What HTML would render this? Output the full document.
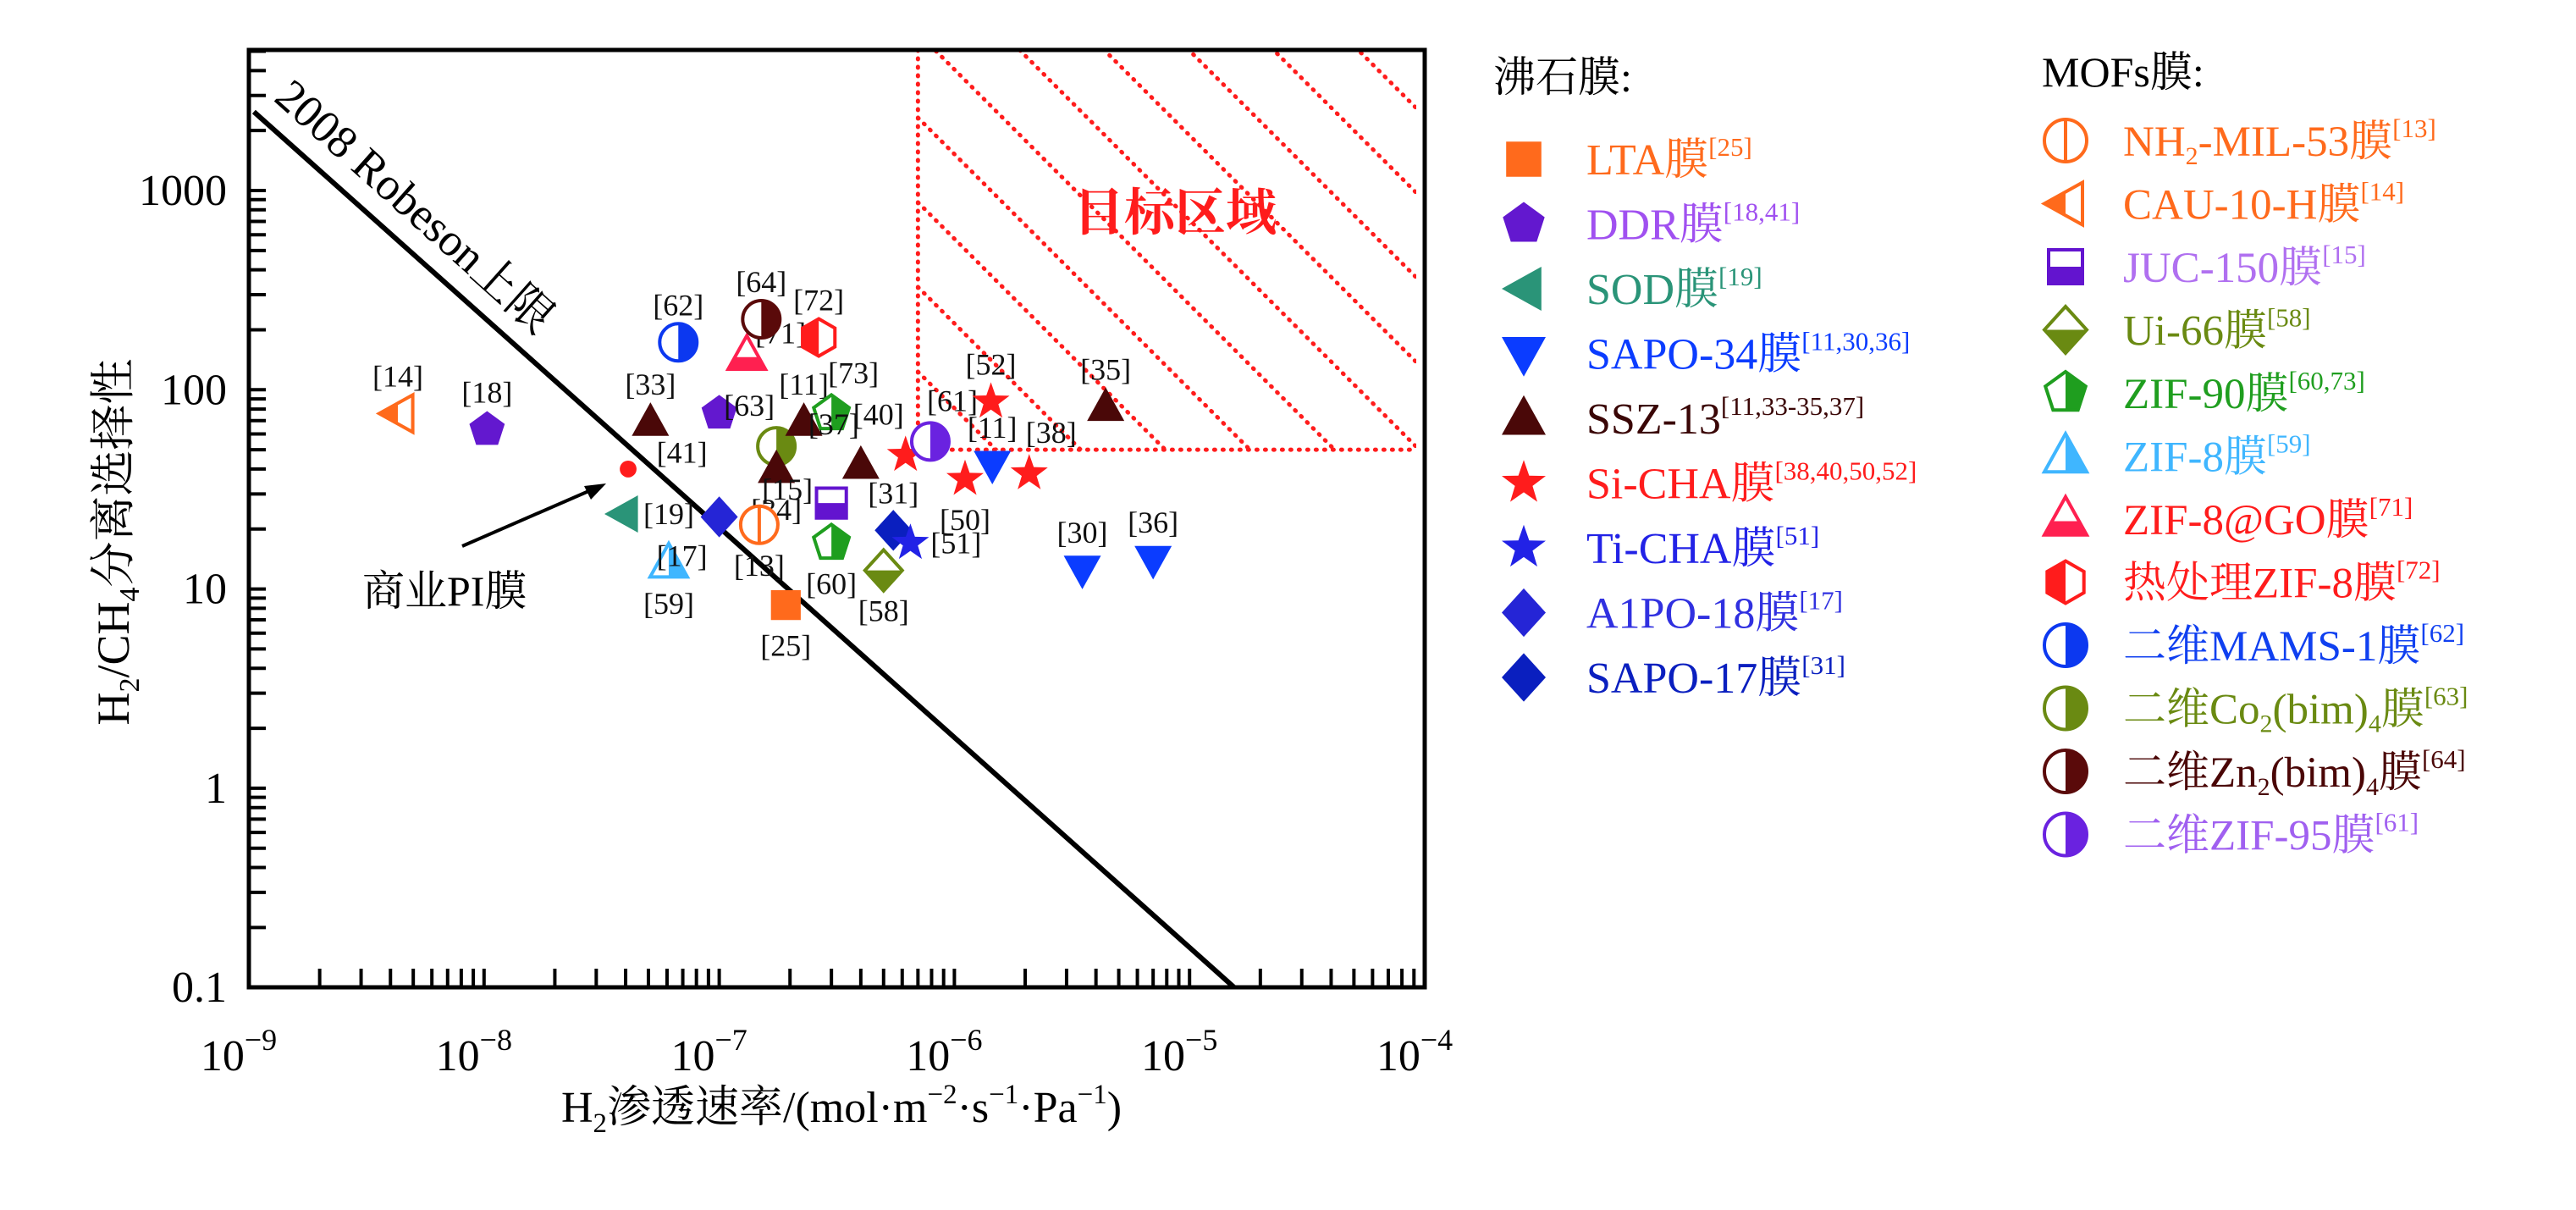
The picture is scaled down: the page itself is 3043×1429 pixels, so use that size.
<!DOCTYPE html>
<html><head><meta charset="utf-8"><style>
html,body{margin:0;padding:0;background:#fff;overflow:hidden;width:3043px;height:1429px;}
svg{display:block;}
text{font-family:"Liberation Serif","Noto Serif CJK SC","Noto Sans CJK SC",serif;}
</style></head><body>
<svg id="chart" width="3043" height="1429" viewBox="0 0 3043 1429" xmlns="http://www.w3.org/2000/svg">
<defs><clipPath id="targetClip"><rect id="targetClipRect" x="0" y="0" width="0" height="0"/></clipPath></defs>
<g id="plot"></g>
<g id="legend"></g>
</svg>
<script>
// ---- data ----
const seriesNames = ["LTA","DDR","SOD","SAPO-34","SSZ-13","Si-CHA","Ti-CHA","AlPO-18","SAPO-17",
 "NH2-MIL-53","CAU-10-H","JUC-150","Ui-66","ZIF-90","ZIF-8","ZIF-8@GO","heat-ZIF-8","MAMS-1","Co2bim4","Zn2bim4","ZIF-95","PI"];
const seriesShapes = ["square","pentagon","triLeft","triDown","triUp","star","star","diamond","diamond",
 "circle","triLeft","square","diamond","pentagon","triUp","triUp","hexagon","circle","circle","circle","circle","dot"];
const seriesFills = ["full","full","full","full","full","full","full","full","full",
 "vline","left","bottom","bottom","right","right","bottom","left","right","right","right","right","full"];
const seriesColors = ["#ff6a1c","#6318cf","#2a9478","#0b3cff","#4a0808","#ff1c1c","#2222e6","#2525d6","#0a1fbf",
 "#ff6a1c","#ff6a1c","#6314cf","#6a8a12","#1f9e1f","#3fb6ff","#ff2050","#ff1c1c","#0c38f0","#6a8a12","#5a0a0a","#6a22e0","#ff1c1c"];
const pointSeries = [10,1,4,21,2,14,17,15,19,16,1,18,4,4,13,4,11,7,9,13,12,0,8,6,5,20,5,5,3,5,4,3,3];
const pointX = [4.3e-9,1.03e-8,5.1e-8,4.1e-8,3.9e-8,6.1e-8,6.7e-8,1.31e-7,1.51e-7,2.65e-7,1.0e-7,1.75e-7,1.75e-7,2.29e-7,3.0e-7,4.0e-7,3.0e-7,1.0e-7,1.48e-7,3.0e-7,5.0e-7,1.92e-7,5.5e-7,6.5e-7,6.2e-7,7.9e-7,1.11e-6,1.43e-6,1.45e-6,2.08e-6,4.4e-6,3.5e-6,7.0e-6];
const pointY = [76,63,69,40,23.8,13.5,173,149,226,183,76,52,40,69,76,42,27,23,21,17,12.4,8.3,19.7,17,47,55,35.6,87,42,38,82,12.5,14];
const pointLabels = ["[14]","[18]","[33]","","[19]","[59]","[62]","[71]","[64]","[72]","[41]","[63]","[34]","[11]","[73]","[37]","[15]","[17]","[13]","[60]","[58]","[25]","[31]","[51]","[40]","[61]","[50]","[52]","[11]","[38]","[35]","[30]","[36]"];
const labelPos = ["a","a","a","","r","b","a","r2","a","a","bl","al","b","a","ar","al","l","bl","b","b","b","b","a","r","al","ar","b","a","a","ar","a","a","a"];
const xTickExps = [-9,-8,-7,-6,-5,-4];
const yTickVals = [0.1,1,10,100,1000];
const yTickLabels = ["0.1","1","10","100","1000"];
const robesonX = [1.05e-9,1.55e-5];
const robesonY = [2485,0.1];
const targetMinX = 7e-7, targetMinY = 50;

// ---- axes ----
const X0=294, X1=1683, Y0=59, Y1=1166;
const xDec=(X1-X0)/5;
const yDec=235.3, yRef=225;
function sx(v){return X0+xDec*(Math.log10(v)+9);}
function sy(v){return yRef+yDec*(3-Math.log10(v));}
const yMaxVal=Math.pow(10,3+(yRef-Y0)/yDec);

const NS="http://www.w3.org/2000/svg";
function el(tag,attrs,parent){const e=document.createElementNS(NS,tag);for(const k in attrs)e.setAttribute(k,attrs[k]);parent.appendChild(e);return e;}
const plot=document.getElementById('plot');
const legend=document.getElementById('legend');

// target region
const tx=sx(targetMinX), ty=sy(targetMinY);
const cr=document.getElementById('targetClipRect');
cr.setAttribute('x',tx);cr.setAttribute('y',Y0);cr.setAttribute('width',X1-tx-10);cr.setAttribute('height',ty-Y0);
const tg=el('g',{},plot);


const hg=el('g',{'clip-path':'url(#targetClip)'},tg);
for(let k=-10;k<8;k++){
  const yS=Y0+80+k*100;
  const ln=el('line',{x1:tx,y1:yS,x2:tx+800,y2:yS+800,stroke:'#ff1c1c','stroke-width':5,'stroke-dasharray':'1 9','stroke-linecap':'round'},hg);
  
  
}
el('line',{x1:tx,y1:Y0,x2:tx,y2:ty,stroke:'#ff1c1c','stroke-width':5,'stroke-dasharray':'1 9','stroke-linecap':'round'},tg);
el('line',{x1:tx,y1:ty,x2:X1-10,y2:ty,stroke:'#ff1c1c','stroke-width':5,'stroke-dasharray':'1 9','stroke-linecap':'round'},tg);
const tt=el('text',{x:1388,y:272,'font-size':60,'font-weight':'bold',fill:'#ff1c1c','text-anchor':'middle','font-family':'"Noto Sans CJK SC","WenQuanYi Zen Hei",sans-serif'},tg);
tt.textContent='目标区域';



// axes frame
const frame=el('rect',{x:X0,y:Y0,width:X1-X0,height:Y1-Y0,fill:'none',stroke:'#000','stroke-width':5},plot);



// x ticks
const xa=el('g',{},plot);


for(const e of xTickExps){
  for(let m=1;m<10;m++){
    const v=m*Math.pow(10,e); if(e===-4&&m>1)break;
    const x=sx(v);
    if(m>1||(e>-9&&e<-4)) el('line',{x1:x,y1:Y1,x2:x,y2:Y1-22,stroke:'#000','stroke-width':4},xa);
  }
  const t=el('text',{x:sx(Math.pow(10,e))-12,y:1264,'font-size':52,'text-anchor':'middle'},xa);
  
  
  t.innerHTML='10<tspan font-size="36" dy="-24">−'+(-e)+'</tspan>';
}
// y ticks
const ya=el('g',{},plot);


for(let d=0;d<yTickVals.length;d++){
  for(let m=1;m<10;m++){
    const v=m*yTickVals[d]; if(v>yMaxVal)break;
    if(m===1&&d===0)continue;
    el('line',{x1:X0,y1:sy(v),x2:X0+20,y2:sy(v),stroke:'#000','stroke-width':4},ya);
  }
  const t=el('text',{x:268,y:sy(yTickVals[d])+17,'font-size':52,'text-anchor':'end'},ya);
  
  
  t.textContent=yTickLabels[d];
}
// axis titles
const xt=el('text',{x:994,y:1325,'font-size':52,'text-anchor':'middle'},plot);


xt.innerHTML='H<tspan font-size="33" dy="12">2</tspan><tspan dy="-12">渗透速率/(mol·m</tspan><tspan font-size="33" dy="-22">−2</tspan><tspan dy="22">·s</tspan><tspan font-size="33" dy="-22">−1</tspan><tspan dy="22">·Pa</tspan><tspan font-size="33" dy="-22">−1</tspan><tspan dy="22">)</tspan>';
const yt=el('text',{x:0,y:0,'font-size':54,'text-anchor':'middle',transform:'translate(152,640) rotate(-90)'},plot);


yt.innerHTML='H<tspan font-size="34" dy="12">2</tspan><tspan dy="-12">/CH</tspan><tspan font-size="34" dy="12">4</tspan><tspan dy="-12">分离选择性</tspan>';

// Robeson line
const rl=el('line',{x1:sx(robesonX[0]),y1:sy(robesonY[0]),x2:sx(robesonX[1]),y2:sy(robesonY[1]),stroke:'#000','stroke-width':6},plot);


const ang=Math.atan2(sy(robesonY[1])-sy(robesonY[0]),sx(robesonX[1])-sx(robesonX[0]))*180/Math.PI;
const rt=el('text',{x:0,y:0,'font-size':54,transform:'translate(322,118) rotate('+ang+')'},plot);
rt.textContent='2008 Robeson上限';



// PI annotation
const pa=el('g',{},plot);


el('line',{x1:546,y1:645,x2:700,y2:578,stroke:'#000','stroke-width':4},pa);
el('path',{d:'M716,571 L690,574 L698,590 Z',fill:'#000'},pa);
const pt=el('text',{x:428,y:715,'font-size':50},pa);
pt.textContent='商业PI膜';

// ---- markers ----
let clipId=0;
function shapePath(type,r){
  const pts=(n,rad,off,inner)=>{let s='';for(let i=0;i<n;i++){const a=(off+360/n*i)*Math.PI/180;s+=(i?'L':'M')+(rad*Math.cos(a)).toFixed(1)+','+(rad*Math.sin(a)).toFixed(1);
    if(inner){const b=(off+360/n*(i+0.5))*Math.PI/180;s+='L'+(inner*Math.cos(b)).toFixed(1)+','+(inner*Math.sin(b)).toFixed(1);}}return s+'Z';};
  switch(type){
    case 'square':return `M${-r*0.8},${-r*0.8}h${r*1.6}v${r*1.6}h${-r*1.6}Z`;
    case 'pentagon':return pts(5,r,-90);
    case 'triLeft':return `M${-r},0L${r*0.8},${-r}L${r*0.8},${r}Z`;
    case 'triUp':return `M0,${-r*1.05}L${r},${r*0.75}L${-r},${r*0.75}Z`;
    case 'triDown':return `M${-r},${-r*0.75}L${r},${-r*0.75}L0,${r*1.05}Z`;
    case 'star':return pts(5,r*1.05,-90,r*0.42);
    case 'diamond':return `M0,${-r*1.1}L${r},0L0,${r*1.1}L${-r},0Z`;
    case 'hexagon':return pts(6,r,-90);
  }
  return '';
}
function drawMarker(parent,si,cx,cy,r){
  const g=el('g',{transform:`translate(${cx},${cy})`},parent);
  const type=seriesShapes[si],fill=seriesFills[si],c=seriesColors[si];
  if(type==='dot'){el('circle',{r:r*0.45,fill:c},g);return g;}
  const isC=type==='circle';
  const mk=(attrs)=>isC?el('circle',Object.assign({r:r},attrs),g):el('path',Object.assign({d:shapePath(type,r)},attrs),g);
  if(fill==='full'){mk({fill:c});return g;}
  mk({fill:'#fff'});
  if(fill!=='vline'){
    const id='hc'+(clipId++);
    const cp=el('clipPath',{id:id},g);
    let rc={x:-r*1.3,y:-r*1.3,width:r*2.6,height:r*2.6};
    if(fill==='left')rc.width=r*1.3;
    if(fill==='right'){rc.x=0;rc.width=r*1.3;}
    if(fill==='bottom'){rc.y=(type==='triUp'?r*0.1:0);rc.height=r*1.3;}
    el('rect',rc,cp);
    mk({fill:c,'clip-path':`url(#${id})`});
  } else {
    el('line',{x1:0,y1:-r,x2:0,y2:r,stroke:c,'stroke-width':4},g);
  }
  mk({fill:'none',stroke:c,'stroke-width':4});
  return g;
}

const mg=el('g',{},plot);


const offs={a:[0,-32],b:[0,60],r:[54,12],r2:[40,-14],l:[-52,-4],bl:[-44,58],al:[-32,-36],ar:[26,-36]};
for(let i=0;i<pointX.length;i++){
  const cx=sx(pointX[i]),cy=sy(pointY[i]);
  const m=drawMarker(mg,pointSeries[i],cx,cy,22);
  
  
  if(pointLabels[i]){
    const o=offs[labelPos[i]];
    const t=el('text',{x:cx+o[0],y:cy+o[1],'font-size':36,'text-anchor':'middle',fill:'#111'},mg);
    t.textContent=pointLabels[i];
    
    
  }
}

// ---- legend ----
const legLeftSeries=[0,1,2,3,4,5,6,7,8];
const legLeftText=['LTA膜','DDR膜','SOD膜','SAPO-34膜','SSZ-13','Si-CHA膜','Ti-CHA膜','A1PO-18膜','SAPO-17膜'];
const legLeftRef=['[25]','[18,41]','[19]','[11,30,36]','[11,33-35,37]','[38,40,50,52]','[51]','[17]','[31]'];
const legLeftColor=['#ff6a1c','#a050f0','#2a9478','#0b3cff','#3a0606','#ff1c1c','#2222e6','#3030e0','#0a1fbf'];
const legRightSeries=[9,10,11,12,13,14,15,16,17,18,19,20];
const legRightText=['NH<tspan font-size="30" dy="10">2</tspan><tspan dy="-10">-MIL-53膜</tspan>','CAU-10-H膜','JUC-150膜','Ui-66膜','ZIF-90膜','ZIF-8膜','ZIF-8@GO膜','热处理ZIF-8膜','二维MAMS-1膜',
 '二维Co<tspan font-size="30" dy="10">2</tspan><tspan dy="-10">(bim)</tspan><tspan font-size="30" dy="10">4</tspan><tspan dy="-10">膜</tspan>',
 '二维Zn<tspan font-size="30" dy="10">2</tspan><tspan dy="-10">(bim)</tspan><tspan font-size="30" dy="10">4</tspan><tspan dy="-10">膜</tspan>','二维ZIF-95膜'];
const legRightRef=['[13]','[14]','[15]','[58]','[60,73]','[59]','[71]','[72]','[62]','[63]','[64]','[61]'];
const legRightColor=['#ff6a1c','#ff6a1c','#b070f0','#6a8a12','#1f9e1f','#3fb6ff','#ff1c1c','#ff1c1c','#1040f0','#6a8a12','#4a0606','#a060f0'];

const h1=el('text',{x:1764,y:108,'font-size':50,fill:'#000'},legend);
h1.textContent='沸石膜:';


const h2=el('text',{x:2412,y:102,'font-size':50,fill:'#000'},legend);
h2.textContent='MOFs膜:';



for(let i=0;i<legLeftSeries.length;i++){
  const y=188+i*76.5;
  const g=el('g',{},legend);
  
  
  drawMarker(g,legLeftSeries[i],1800,y,26);
  const t=el('text',{x:1874,y:y+18,'font-size':52,fill:legLeftColor[i]},g);
  t.innerHTML=legLeftText[i]+'<tspan font-size="31" dy="-22">'+legLeftRef[i]+'</tspan>';
}
for(let i=0;i<legRightSeries.length;i++){
  const y=166+i*74.5;
  const g=el('g',{},legend);
  
  
  drawMarker(g,legRightSeries[i],2440,y,25);
  const t=el('text',{x:2508,y:y+18,'font-size':51,fill:legRightColor[i]},g);
  t.innerHTML=legRightText[i]+'<tspan font-size="31" dy="-22">'+legRightRef[i]+'</tspan>';
}
</script>
</body></html>
